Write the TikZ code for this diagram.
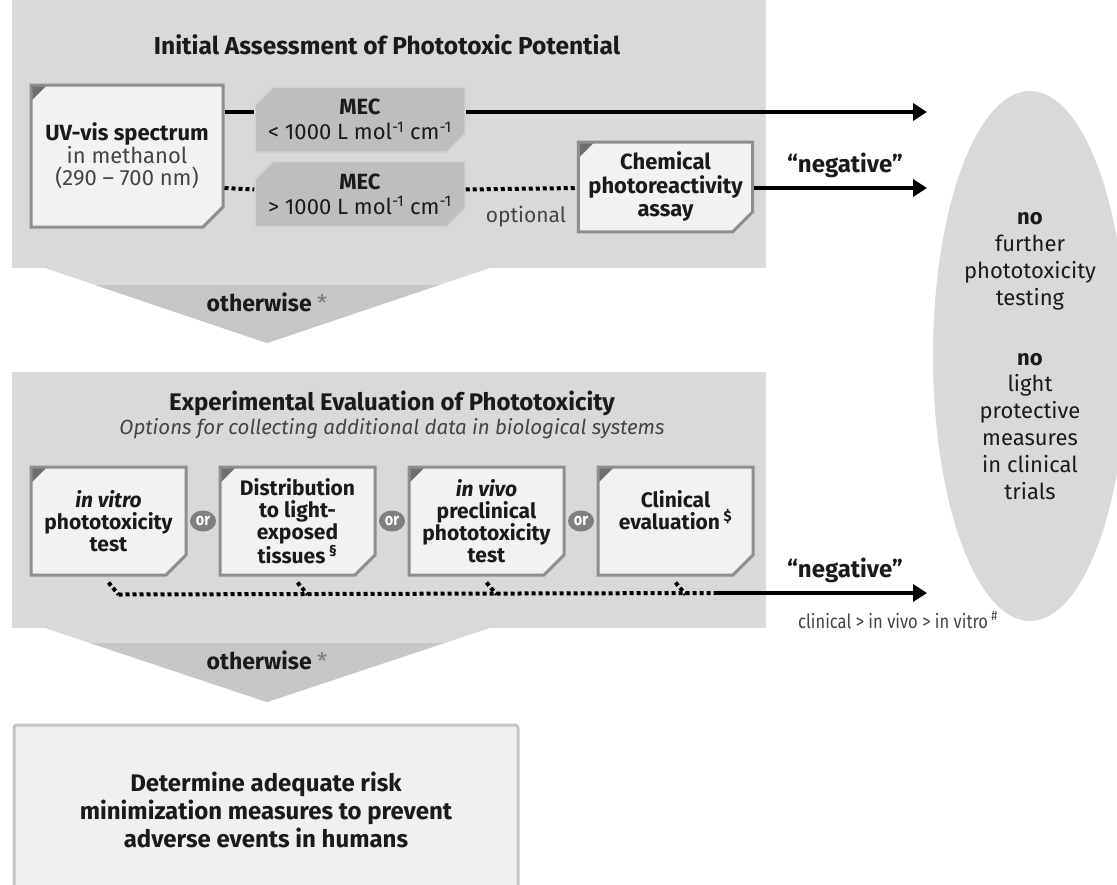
\documentclass[tikz,border=0pt]{standalone}
\usepackage{fontspec}
\setmainfont{Fira Sans}
\newfontfamily\narrowfont[FakeStretch=0.85]{Fira Sans}
\usetikzlibrary{positioning, arrows.meta, shapes.misc, shapes.geometric, calc}

\definecolor{panelgray}{HTML}{D9D9D9}
\definecolor{arrowgray}{HTML}{C6C6C6}
\definecolor{boxfill}{HTML}{F2F2F2}
\definecolor{boxedge}{HTML}{8E8E8E}
\definecolor{cornergray}{HTML}{6E6E6E}
\definecolor{mecfill}{HTML}{BEBEBE}
\definecolor{mecedge}{HTML}{D2D2D2}
\definecolor{orgray}{HTML}{7F7F7F}
\definecolor{finalfill}{HTML}{F0F0F0}
\definecolor{finaledge}{HTML}{C4C4C4}
\definecolor{textdark}{HTML}{1A1A1A}
\definecolor{textgray}{HTML}{444444}
\definecolor{stargray}{HTML}{7A7A7A}

\begin{document}
\begin{tikzpicture}[x=1pt, y=-1pt,
    panel/.style={fill=panelgray, inner sep=0pt},
    testbox/.style={chamfered rectangle, chamfered rectangle corners=south east, chamfered rectangle sep=10pt,
        draw=boxedge, line width=3pt, fill=boxfill, align=center, inner sep=0pt, text=textdark,
        path picture={\fill[cornergray] (path picture bounding box.north west) -- ++(16pt,0pt) -- ++(-16pt,-16pt) -- cycle;}},
    mecbox/.style={chamfered rectangle, chamfered rectangle corners={north west, south east}, chamfered rectangle sep=9pt,
        draw=mecedge, line width=1.5pt, fill=mecfill, align=center, inner sep=0pt, text=textdark,
        minimum width=210pt, minimum height=65pt, font=\fontsize{22}{25}\selectfont},
    ornode/.style={ellipse, fill=orgray, text=white, inner sep=0pt, minimum width=26pt, minimum height=21pt,
        font=\narrowfont\bfseries\fontsize{17}{17}\selectfont},
    solidline/.style={line width=4pt},
    dotline/.style={line width=4pt, dash pattern=on 4pt off 3pt},
    arrowline/.style={line width=4pt, -{Triangle[length=14pt, width=17pt]}},
    negtext/.style={font=\bfseries\fontsize{24}{28}\selectfont, text=textdark},
    otherwise/.style={font=\bfseries\fontsize{23}{26}\selectfont, text=textdark}
]
\useasboundingbox (0,0) rectangle (1117,884);

% Initial assessment
\node[panel, minimum width=754pt, minimum height=268pt] (panelA) at (389,134) {};
\fill[panelgray] (45,268) -- (490,268) -- (267,343) -- cycle;
\fill[arrowgray] (95,285) -- (439,285) -- (267,343) -- cycle;
\node[otherwise] (otherA) at (267,302) {otherwise \textcolor{stargray}{\mdseries*}};
\node[font=\bfseries\fontsize{24.5}{28}\selectfont, text=textdark] (titleA) at (387,45) {Initial Assessment of Phototoxic Potential};

\node[testbox, minimum width=192pt, minimum height=142pt, font=\fontsize{22}{22.5}\selectfont] (uv) at (127,156)
    {\textbf{UV-vis spectrum}\\ \textcolor{textgray}{in methanol}\\ \textcolor{textgray}{(290 – 700 nm)}};
\node[mecbox] (meclow) at (360,119.5) {\textbf{MEC}\\ < 1000 L mol\textsuperscript{-1} cm\textsuperscript{-1}};
\node[mecbox, below=8pt of meclow] (mechigh) {\textbf{MEC}\\ > 1000 L mol\textsuperscript{-1} cm\textsuperscript{-1}};
\node[testbox, minimum width=159pt, minimum height=88pt, font=\bfseries\fontsize{22}{23.5}\selectfont] (chem) at (665.5,187)
    {Chemical\\ photoreactivity\\ assay};
\node[font=\fontsize{21}{24}\selectfont, text=textgray] (optional) at (526,217) {optional};

\coordinate (endA) at (927,112);
\coordinate (endB) at (927,188);
\draw[solidline] ([yshift=44pt]uv.east) -- ([yshift=7.5pt]meclow.west);
\draw[arrowline] ([yshift=7.5pt]meclow.east) -- (endA);
\draw[dotline] ([yshift=-32pt]uv.east) -- ([yshift=4.5pt]mechigh.west);
\draw[dotline] ([yshift=4.5pt]mechigh.east) -- ([yshift=-1pt]chem.west);
\draw[arrowline] ([yshift=-1pt]chem.east) -- (endB);
\node[negtext] (negA) at (845,165) {“negative”};

% No further testing
\node[ellipse, fill=panelgray, minimum width=194pt, minimum height=530pt, inner sep=0pt, align=center,
    font=\fontsize{22}{26.8}\selectfont, text=textdark] (noTest) at (1030,356)
    {\textbf{no}\\ further\\ phototoxicity\\ testing\\[33pt] \textbf{no}\\ light\\ protective\\ measures\\ in clinical\\ trials};

% Experimental evaluation
\node[panel, minimum width=754pt, minimum height=256pt] (panelB) at (389,500) {};
\fill[panelgray] (45,628) -- (490,628) -- (267,702) -- cycle;
\fill[arrowgray] (90,643) -- (444,643) -- (267,702) -- cycle;
\node[otherwise] (otherB) at (267,660) {otherwise \textcolor{stargray}{\mdseries*}};
\node[font=\bfseries\fontsize{24}{27}\selectfont, text=textdark] (titleB) at (392,403) {Experimental Evaluation of Phototoxicity};
\node[font=\itshape\fontsize{20.5}{23}\selectfont, text=textgray] (subB) at (392,429) {Options for collecting additional data in biological systems};

\tikzset{optbox/.style={testbox, minimum width=155pt, minimum height=108pt, font=\bfseries\fontsize{21}{22}\selectfont}}
\node[optbox] (invitro) at (108.5,521) {\textit{in vitro}\\ phototoxicity\\ test};
\node[optbox, right=31pt of invitro] (distrib) {Distribution\\ to light-\\ exposed\\ tissues\,\textsuperscript{§}};
\node[optbox, right=31pt of distrib] (invivo) {\textit{in vivo}\\ preclinical\\ phototoxicity\\ test};
\node[optbox, right=31pt of invivo] (clinic) {Clinical\\ evaluation\,\textsuperscript{\$}\\ \mbox{}};

\node[ornode] (orA) at ($(invitro.east)!0.5!(distrib.west)$) {or};
\node[ornode] (orB) at ($(distrib.east)!0.5!(invivo.west)$) {or};
\node[ornode] (orC) at ($(invivo.east)!0.5!(clinic.west)$) {or};

\coordinate (jA) at ($(invitro.south)+(10pt,-18pt)$);
\coordinate (jB) at ($(distrib.south)+(10pt,-18pt)$);
\coordinate (jC) at ($(invivo.south)+(10pt,-18pt)$);
\coordinate (jD) at ($(clinic.south)+(10pt,-18pt)$);
\coordinate (swC) at (715,593);
\coordinate (endC) at (927,593);
\draw[dotline] ([yshift=-6pt]invitro.south) -- (jA);
\draw[dotline] ([yshift=-6pt]distrib.south) -- (jB);
\draw[dotline] ([yshift=-6pt]invivo.south) -- (jC);
\draw[dotline] ([yshift=-6pt]clinic.south) -- (jD);
\draw[dotline] (jA) -- (swC);
\draw[arrowline] (swC) -- (endC);
\node[negtext] (negB) at (845,570) {“negative”};
\node[font=\narrowfont\fontsize{19.5}{21}\selectfont, text=textgray] (order) at (898,620)
    {clinical > in vivo > in vitro\,\textsuperscript{\#}};

% Risk minimization
\node[fill=finalfill, draw=finaledge, line width=3pt, rounded corners=3pt, minimum width=504pt, minimum height=170pt,
    align=center, font=\bfseries\fontsize{24}{28}\selectfont, text=textdark] (riskBox) at (266,810)
    {Determine adequate risk\\ minimization measures to prevent\\ adverse events in humans};

\end{tikzpicture}
\end{document}
